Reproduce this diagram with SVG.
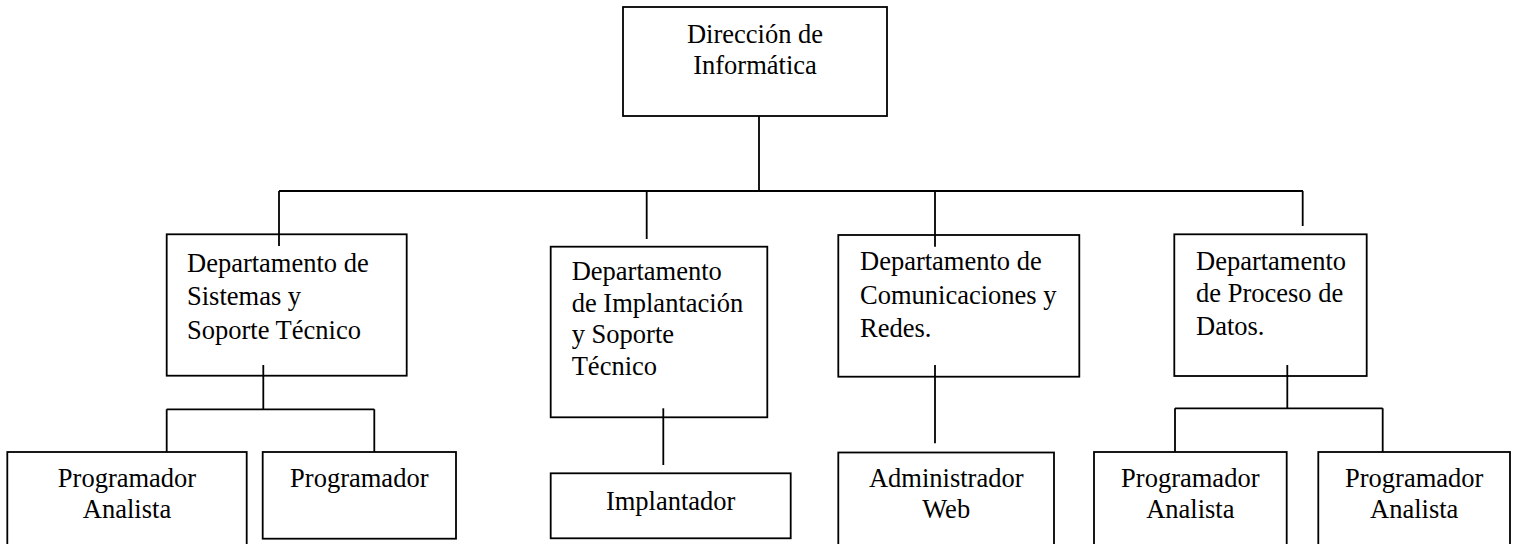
<svg xmlns="http://www.w3.org/2000/svg" width="1516" height="544" viewBox="0 0 1516 544">
<style>
.box{fill:#fff;stroke:#000;stroke-width:1.8}
.ln{fill:none;stroke:#000;stroke-width:1.8}
text{font-family:"Liberation Serif","Times New Roman",serif;font-size:26.5px;fill:#000}
.c{text-anchor:middle}
</style>
<rect width="1516" height="544" fill="#fff"/>
<g id="n-direccion">
<rect class="box" x="623" y="7" width="264" height="109"/>
<text class="c" x="755" y="43.3">Dirección de</text>
<text class="c" x="755" y="74">Informática</text>
</g>
<g id="n-sistemas">
<rect class="box" x="166.7" y="234.3" width="240" height="141.4"/>
<text x="187" y="271.5">Departamento de</text>
<text x="187" y="305.2">Sistemas y</text>
<text x="187" y="339">Soporte Técnico</text>
</g>
<g id="n-implantacion">
<rect class="box" x="550.7" y="246.7" width="216.6" height="170.6"/>
<text x="571.7" y="280">Departamento</text>
<text x="571.7" y="311.6">de Implantación</text>
<text x="571.7" y="343">y Soporte</text>
<text x="571.7" y="374.5">Técnico</text>
</g>
<g id="n-comunicaciones">
<rect class="box" x="838.3" y="235" width="241" height="141.7"/>
<text x="860" y="270.3">Departamento de</text>
<text x="860" y="303.6">Comunicaciones y</text>
<text x="860" y="336.9">Redes.</text>
</g>
<g id="n-proceso">
<rect class="box" x="1174.3" y="234.3" width="192.4" height="141.7"/>
<text x="1196" y="270">Departamento</text>
<text x="1196" y="302">de Proceso de</text>
<text x="1196" y="334.5">Datos.</text>
</g>
<g id="n-pa1">
<rect class="box" x="7.3" y="452" width="239.4" height="93"/>
<text class="c" x="127" y="487">Programador</text>
<text class="c" x="127" y="518">Analista</text>
</g>
<g id="n-prog">
<rect class="box" x="262.7" y="452" width="193.3" height="86.7"/>
<text class="c" x="359.3" y="487">Programador</text>
</g>
<g id="n-implantador">
<rect class="box" x="550.7" y="473.3" width="240" height="65"/>
<text class="c" x="670.7" y="510">Implantador</text>
</g>
<g id="n-admin">
<rect class="box" x="838.3" y="452.5" width="215.7" height="92.5"/>
<text class="c" x="946.2" y="487">Administrador</text>
<text class="c" x="946.2" y="518">Web</text>
</g>
<g id="n-pa3">
<rect class="box" x="1094" y="452" width="192.7" height="93"/>
<text class="c" x="1190.3" y="487">Programador</text>
<text class="c" x="1190.3" y="518">Analista</text>
</g>
<g id="n-pa4">
<rect class="box" x="1318.3" y="452" width="191.7" height="93"/>
<text class="c" x="1414.2" y="487">Programador</text>
<text class="c" x="1414.2" y="518">Analista</text>
</g>
<g id="connectors">
<path class="ln" d="M759 116V191M279 191H1303M279 191V246M646.7 191V239M935 191V246.7M1302.7 191V226"/>
<path class="ln" d="M263.3 365V409.3M166.7 409.3H374.3M166.7 409.3V452M374.3 409.3V452"/>
<path class="ln" d="M663.3 408.3V465"/>
<path class="ln" d="M935 365V443.3"/>
<path class="ln" d="M1287.3 365V408.3M1175 408.3H1382.7M1175 408.3V452M1382.7 408.3V452"/>
</g>
</svg>
